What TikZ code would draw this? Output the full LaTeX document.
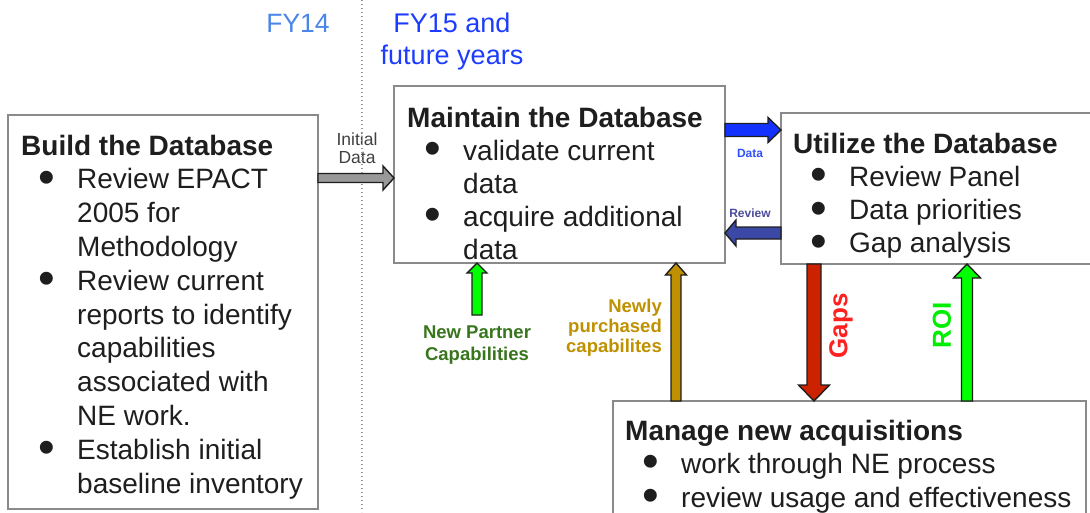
\documentclass[tikz,border=0pt]{standalone}
\usepackage{fontspec}
\usepackage{graphicx}
\setmainfont{Liberation Sans}
\usetikzlibrary{calc}

\definecolor{fyA}{HTML}{4A86E8}
\definecolor{fyB}{HTML}{1C3CFF}
\definecolor{boxline}{HTML}{8A8A8A}
\definecolor{arrline}{HTML}{1E1E1E}
\definecolor{grayfill}{HTML}{999999}
\definecolor{datafill}{HTML}{1432FF}
\definecolor{revfill}{HTML}{3C48A5}
\definecolor{revtxt}{HTML}{4B4B9B}
\definecolor{datatxt}{HTML}{3050FF}
\definecolor{npfill}{HTML}{00FF00}
\definecolor{nptxt}{HTML}{38761D}
\definecolor{goldc}{HTML}{BF9000}
\definecolor{gapfill}{HTML}{CC2200}
\definecolor{gaptxt}{HTML}{FF2020}
\definecolor{roitxt}{HTML}{00EE00}
\definecolor{bodytxt}{HTML}{1E1E1E}
\definecolor{inittxt}{HTML}{404040}

\newcommand\bulglyph{\raisebox{-0.16em}{\scalebox{1.7}{\textbullet}}}
\newcommand\bl[1]{\makebox[56pt][l]{\hspace*{17pt}\bulglyph}#1}
\newcommand\cl[1]{\hspace*{56pt}#1}
\newcommand\blockarr[6]{%
  \path ($(#3)!#6!(#2)$) coordinate (bh);
  \draw[#1] ($(#2)!#4!90:(#3)$) -- ($(bh)!#4!90:(#3)$) -- ($(bh)!#5!90:(#3)$)
    -- (#3) -- ($(bh)!#5!-90:(#3)$) -- ($(bh)!#4!-90:(#3)$)
    -- ($(#2)!#4!-90:(#3)$) -- cycle;}

\tikzset{
  dbbox/.style={draw=boxline, line width=2pt, fill=white, inner sep=0pt, outer sep=0pt, anchor=north west},
  body/.style={inner sep=0pt, anchor=base west, text=bodytxt},
  lbl/.style={inner sep=0pt, anchor=base},
  blk/.style={draw=arrline, line width=1.4pt, line join=miter, fill=#1},
}

\begin{document}
\begin{tikzpicture}[x=1pt,y=-1pt]
\useasboundingbox (0,0) rectangle (1090,512);
\clip (0,0) rectangle (1090,512);

% boxes
\node[dbbox, minimum width=310pt, minimum height=394pt] (build) at (8,115) {};
\node[dbbox, minimum width=331pt, minimum height=177pt] (maintain) at (394,86) {};
\node[dbbox, minimum width=340pt, minimum height=151pt] (utilize) at (781,113) {};
\node[dbbox, minimum width=473pt, minimum height=140pt] (manage) at (613,401) {};

% box texts
\node[body, font=\fontsize{28}{33.8}\selectfont] (buildtxt) at (21,155)
 {\begin{tabular}[t]{@{}l@{}}\textbf{Build the Database}\\\bl{Review EPACT}\\\cl{2005 for}\\\cl{Methodology}\\\bl{Review current}\\\cl{reports to identify}\\\cl{capabilities}\\\cl{associated with}\\\cl{NE work.}\\\bl{Establish initial}\\\cl{baseline inventory}\end{tabular}};
\node[body, font=\fontsize{28}{33}\selectfont] (maintaintxt) at (407,127)
 {\begin{tabular}[t]{@{}l@{}}\textbf{Maintain the Database}\\\bl{validate current}\\\cl{data}\\\bl{acquire additional}\\\cl{data}\end{tabular}};
\node[body, font=\fontsize{28}{33.3}\selectfont] (utilizetxt) at (793,153)
 {\begin{tabular}[t]{@{}l@{}}\textbf{Utilize the Database}\\\bl{Review Panel}\\\bl{Data priorities}\\\bl{Gap analysis}\end{tabular}};
\node[body, font=\fontsize{28}{33.5}\selectfont] (managetxt) at (625,440)
 {\begin{tabular}[t]{@{}l@{}}\textbf{Manage new acquisitions}\\\bl{work through NE process}\\\bl{review usage and effectiveness}\end{tabular}};

% year labels
\node[lbl, text=fyA, font=\fontsize{26.5}{32}\selectfont] (fy14) at (298,32) {FY14};
\node[lbl, text=fyB, font=\fontsize{27}{32}\selectfont] (fy15) at (452,32)
 {\begin{tabular}[t]{@{}c@{}}FY15 and\\future years\end{tabular}};

% arrows
\coordinate (i1) at (build.east |- 0,178);
\coordinate (i2) at (maintain.west |- 0,178);
\blockarr{blk=grayfill}{i1}{i2}{4.5pt}{12pt}{11pt}

\coordinate (d1) at (maintain.east |- 0,130);
\coordinate (d2) at (utilize.west |- 0,130);
\blockarr{blk=datafill}{d1}{d2}{6.5pt}{12.5pt}{13pt}

\coordinate (r1) at (utilize.west |- 0,233);
\coordinate (r2) at (maintain.east |- 0,233);
\blockarr{blk=revfill}{r1}{r2}{6pt}{13pt}{11pt}

\coordinate (n1) at (477,315);
\coordinate (n2) at (maintain.south -| 477,0);
\blockarr{blk=npfill}{n1}{n2}{5pt}{10pt}{10pt}

\coordinate (p1) at (manage.north -| 676,0);
\coordinate (p2) at (maintain.south -| 676,0);
\blockarr{blk=goldc}{p1}{p2}{5pt}{10.5pt}{12pt}

\coordinate (g1) at (utilize.south -| 814,0);
\coordinate (g2) at (manage.north -| 814,0);
\blockarr{blk=gapfill}{g1}{g2}{7pt}{15.5pt}{16pt}

\coordinate (o1) at (manage.north -| 967,0);
\coordinate (o2) at (utilize.south -| 967,0);
\blockarr{blk=npfill}{o1}{o2}{5.5pt}{13.5pt}{14pt}

% arrow labels
\node[lbl, text=inittxt, font=\fontsize{17.5}{18}\selectfont] (initlbl) at (357,145)
 {\begin{tabular}[t]{@{}c@{}}Initial\\Data\end{tabular}};
\node[lbl, text=datatxt, font=\fontsize{12}{14}\selectfont\bfseries] (datalbl) at (750,157) {Data};
\node[lbl, text=revtxt, font=\fontsize{12}{14}\selectfont\bfseries] (revlbl) at (750,217) {Review};
\node[lbl, text=nptxt, font=\fontsize{18.5}{22}\selectfont\bfseries] (nplbl) at (477,338)
 {\begin{tabular}[t]{@{}c@{}}New Partner\\Capabilities\end{tabular}};
\node[inner sep=0pt, anchor=base east, text=goldc, font=\fontsize{18.5}{20}\selectfont\bfseries] (purlbl) at (662,312)
 {\begin{tabular}[t]{@{}r@{}}Newly\\purchased\\capabilites\end{tabular}};
\node[inner sep=0pt, rotate=90, text=gaptxt, font=\fontsize{26}{30}\selectfont\bfseries] (gapslbl) at (841,326) {Gaps};
\node[inner sep=0pt, rotate=90, text=roitxt, font=\fontsize{26}{30}\selectfont\bfseries] (roilbl) at (942,325) {ROI};

% divider
\draw[draw=black!40, line width=1.3pt, dash pattern=on 1.4pt off 2.6pt] (362,0) -- (362,512);
\end{tikzpicture}
\end{document}
